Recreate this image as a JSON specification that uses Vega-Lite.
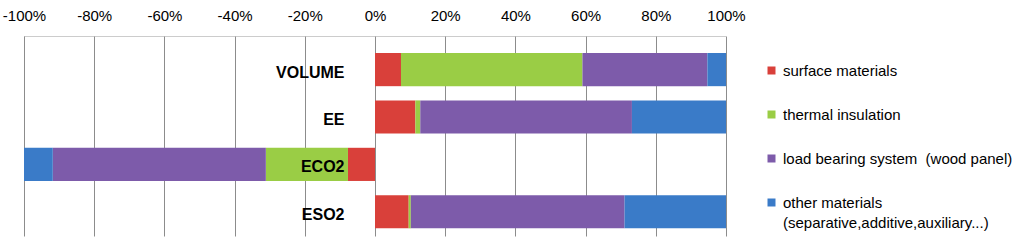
{
  "$schema": "https://vega.github.io/schema/vega-lite/v6.json",
  "width": 702,
  "height": 200,
  "autosize": "none",
  "padding": {"left": 24, "top": 36, "right": 298, "bottom": 8},
  "background": "white",
  "config": {
    "view": {"stroke": null},
    "font": "Liberation Sans",
    "style": {"guide-label": {"lineHeight": 20}}
  },
  "data": {
    "values": [
      {"category": "VOLUME", "material": "surface materials", "ord": 1, "share": 7.4},
      {"category": "VOLUME", "material": "thermal insulation", "ord": 2, "share": 51.7},
      {"category": "VOLUME", "material": "load bearing system \u00a0(wood panel)", "ord": 3, "share": 35.6},
      {"category": "VOLUME", "material": "other materials", "ord": 4, "share": 5.3},
      {"category": "EE", "material": "surface materials", "ord": 1, "share": 11.5},
      {"category": "EE", "material": "thermal insulation", "ord": 2, "share": 1.4},
      {"category": "EE", "material": "load bearing system \u00a0(wood panel)", "ord": 3, "share": 60.3},
      {"category": "EE", "material": "other materials", "ord": 4, "share": 26.8},
      {"category": "ECO2", "material": "surface materials", "ord": 1, "share": -7.7},
      {"category": "ECO2", "material": "thermal insulation", "ord": 2, "share": -23.4},
      {"category": "ECO2", "material": "load bearing system \u00a0(wood panel)", "ord": 3, "share": -60.7},
      {"category": "ECO2", "material": "other materials", "ord": 4, "share": -8.2},
      {"category": "ESO2", "material": "surface materials", "ord": 1, "share": 9.6},
      {"category": "ESO2", "material": "thermal insulation", "ord": 2, "share": 0.6},
      {"category": "ESO2", "material": "load bearing system \u00a0(wood panel)", "ord": 3, "share": 60.9},
      {"category": "ESO2", "material": "other materials", "ord": 4, "share": 28.9}
    ]
  },
  "mark": {"type": "bar", "stroke": null},
  "encoding": {
    "y": {
      "field": "category",
      "type": "nominal",
      "sort": ["VOLUME", "EE", "ECO2", "ESO2"],
      "scale": {"paddingInner": 0.3, "paddingOuter": 0.26, "align": 0.69},
      "axis": {
        "title": null,
        "orient": "left",
        "offset": -351,
        "domain": false,
        "ticks": false,
        "grid": false,
        "labelPadding": 31,
        "labelFontWeight": "bold",
        "labelFontSize": 16,
        "labelColor": "#000000",
        "labelOffset": 3,
        "zindex": 1
      }
    },
    "x": {
      "field": "share",
      "type": "quantitative",
      "stack": "zero",
      "scale": {"domain": [-100, 100], "nice": false},
      "axis": {
        "title": null,
        "orient": "top",
        "values": [-100, -80, -60, -40, -20, 0, 20, 40, 60, 80, 100],
        "labelExpr": "datum.value + '%'",
        "ticks": false,
        "labelPadding": 13,
        "labelFontSize": 15,
        "labelColor": "#000000",
        "labelFlush": false,
        "domain": true,
        "domainColor": "#999999",
        "domainDash": [1, 1],
        "grid": true,
        "gridColor": "#8c8c8c",
        "gridWidth": 1
      }
    },
    "color": {
      "field": "material",
      "type": "nominal",
      "sort": ["surface materials", "thermal insulation", "load bearing system \u00a0(wood panel)", "other materials"],
      "scale": {
        "domain": ["surface materials", "thermal insulation", "load bearing system \u00a0(wood panel)", "other materials"],
        "range": ["#D9403A", "#9ACD45", "#7D5BAA", "#3A7BC8"]
      },
      "legend": {
        "title": null,
        "orient": "none",
        "legendX": 740,
        "legendY": 27,
        "symbolType": "square",
        "symbolSize": 64,
        "symbolStrokeWidth": 0,
        "labelFontSize": 15,
        "labelColor": "#000000",
        "labelLimit": 400,
        "labelOffset": 4,
        "rowPadding": 28,
        "labelExpr": "datum.label == 'other materials' ? ['other materials', '(separative,additive,auxiliary...)'] : datum.label"
      }
    },
    "order": {"field": "ord", "type": "quantitative", "sort": "ascending"}
  }
}
